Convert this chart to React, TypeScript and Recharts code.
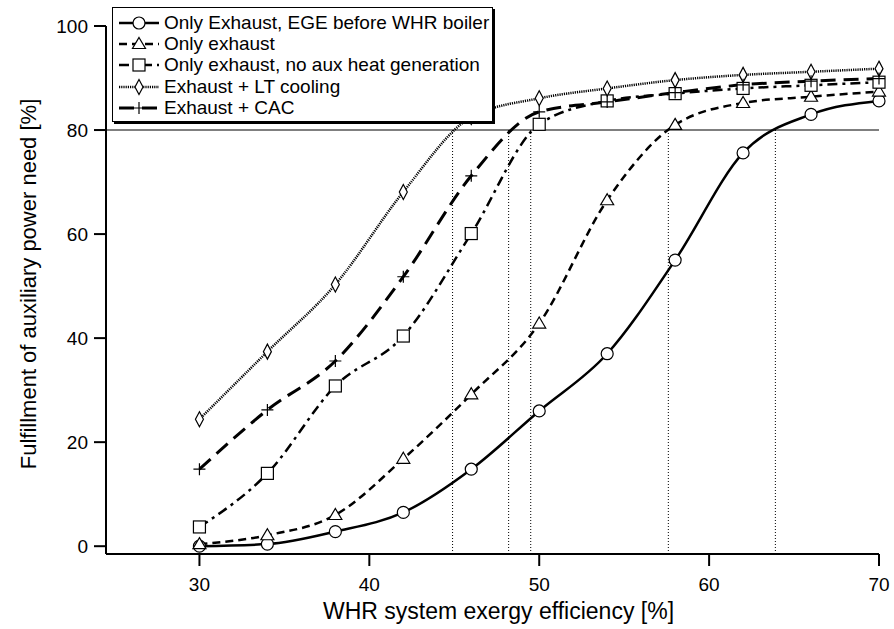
import React from 'react';
import {
  LineChart,
  Line,
  XAxis,
  YAxis,
  ReferenceLine,
  Legend,
} from 'recharts';

const efficiency = [30, 34, 38, 42, 46, 50, 54, 58, 62, 66, 70];
const egeBeforeBoiler = [0, 0.4, 2.8, 6.5, 14.8, 26, 37, 55, 75.6, 83, 85.6];
const onlyExhaust = [0.4, 2.1, 6, 16.8, 29.2, 42.8, 66.5, 81, 85.2, 86.4, 87.4];
const noAuxHeat = [3.7, 14, 30.8, 40.4, 60.1, 81.1, 85.6, 87, 88, 88.6, 89.2];
const ltCooling = [24.4, 37.4, 50.3, 68.1, 82.5, 86.1, 88, 89.6, 90.6, 91.2, 91.8];
const cac = [14.8, 26.2, 35.6, 51.8, 71.2, 83.5, 85.4, 87.2, 88.7, 89.4, 89.9];

// where each curve reaches the 80 % target
const crossings = [44.9, 48.2, 49.5, 57.6, 63.9];
const target = 80;

const xTicks = [30, 40, 50, 60, 70];
const yTicks = [0, 20, 40, 60, 80, 100];

const data = efficiency.map((x, i) => ({
  x,
  ege: egeBeforeBoiler[i],
  only: onlyExhaust[i],
  noAux: noAuxHeat[i],
  lt: ltCooling[i],
  cac: cac[i],
}));

const FONT = 'Liberation Sans, Arial, Helvetica, sans-serif';

type Shape = 'circle' | 'triangle' | 'square' | 'diamond' | 'plus';

function Marker({ shape, cx, cy }: { shape: Shape; cx: number; cy: number }) {
  const common = { fill: '#fff', stroke: '#000', strokeWidth: 1.2 };
  switch (shape) {
    case 'circle':
      return <circle cx={cx} cy={cy} r={6} {...common} />;
    case 'triangle':
      return (
        <polygon
          points={`${cx},${cy - 6.5} ${cx + 6.5},${cy + 4.5} ${cx - 6.5},${cy + 4.5}`}
          {...common}
        />
      );
    case 'square':
      return <rect x={cx - 6} y={cy - 6} width={12} height={12} {...common} />;
    case 'diamond':
      return (
        <polygon
          points={`${cx},${cy - 7.5} ${cx + 4},${cy} ${cx},${cy + 7.5} ${cx - 4},${cy}`}
          {...common}
        />
      );
    case 'plus':
      return (
        <path
          d={`M${cx - 6},${cy}H${cx + 6}M${cx},${cy - 6}V${cy + 6}`}
          stroke="#000"
          strokeWidth={1.2}
          fill="none"
        />
      );
  }
  return null;
}

const dotFor = (shape: Shape) => (props: any) => {
  const { cx, cy, index } = props;
  if (cx == null || cy == null) return <g key={`${shape}-${index}`} />;
  return (
    <g key={`${shape}-${index}`}>
      <Marker shape={shape} cx={cx} cy={cy} />
    </g>
  );
};

const series = [
  { key: 'ege', name: 'Only Exhaust, EGE before WHR boiler', shape: 'circle' as Shape, dash: undefined, width: 2.5 },
  { key: 'only', name: 'Only exhaust', shape: 'triangle' as Shape, dash: '8 5', width: 2.5 },
  { key: 'noAux', name: 'Only exhaust, no aux heat generation', shape: 'square' as Shape, dash: '10 5 3 5', width: 2.5 },
  { key: 'lt', name: 'Exhaust + LT cooling', shape: 'diamond' as Shape, dash: '1.2 1', width: 2.5 },
  { key: 'cac', name: 'Exhaust + CAC', shape: 'plus' as Shape, dash: '15 8', width: 3 },
];

function LegendBox() {
  return (
    <div
      style={{
        background: '#fff',
        border: '1.5px solid #000',
        boxShadow: '2px 2px 0 #000',
        padding: '4px 6px 4px 5px',
        fontFamily: FONT,
        fontSize: 19,
        color: '#000',
        boxSizing: 'border-box',
        width: 381,
        height: 115,
      }}
    >
      {series.map((s) => (
        <div key={s.key} style={{ display: 'flex', alignItems: 'center', height: 21.3, whiteSpace: 'nowrap' }}>
          <svg width={44} height={18} style={{ flex: 'none' }}>
            <line x1={1} y1={9} x2={41} y2={9} stroke="#000" strokeWidth={s.width} strokeDasharray={s.dash} />
            <Marker shape={s.shape} cx={21} cy={9} />
          </svg>
          <span style={{ marginLeft: 2 }}>{s.name}</span>
        </div>
      ))}
    </div>
  );
}

export default function App() {
  return (
    <div style={{ position: 'fixed', left: 0, top: 0, width: 894, height: 629, background: '#fff' }}>
      <LineChart
        width={894}
        height={629}
        data={data}
        margin={{ top: 26, right: 15, bottom: 0, left: 0 }}
      >
        <XAxis
          dataKey="x"
          type="number"
          domain={[24.5, 70]}
          ticks={xTicks}
          height={75}
          tickSize={12}
          tickMargin={12}
          stroke="#000"
          strokeWidth={2}
          tick={{ fill: '#000', fontSize: 19, fontFamily: FONT }}
          label={{
            content: (props: any) => {
              const vb = props.viewBox;
              return (
                <text
                  x={vb.x + vb.width / 2 + 6}
                  y={619}
                  textAnchor="middle"
                  fontSize={23}
                  fontFamily={FONT}
                  fill="#000"
                >
                  WHR system exergy efficiency [%]
                </text>
              );
            },
          }}
        />
        <YAxis
          type="number"
          domain={[-1.5, 100]}
          ticks={yTicks}
          width={106}
          tickSize={12}
          tickMargin={6}
          stroke="#000"
          strokeWidth={2}
          tick={{ fill: '#000', fontSize: 19, fontFamily: FONT }}
          label={{
            content: (props: any) => {
              const vb = props.viewBox;
              const cy = vb.y + vb.height / 2 - 6;
              return (
                <text
                  x={28}
                  y={cy}
                  transform={`rotate(-90, 28, ${cy})`}
                  textAnchor="middle"
                  dominantBaseline="central"
                  fontSize={22}
                  fontFamily={FONT}
                  fill="#000"
                >
                  Fulfillment of auxiliary power need [%]
                </text>
              );
            },
          }}
        />
        <ReferenceLine y={target} stroke="#555" strokeWidth={1.5} />
        {crossings.map((c) => (
          <ReferenceLine
            key={c}
            segment={[
              { x: c, y: -1.5 },
              { x: c, y: target },
            ]}
            stroke="#000"
            strokeWidth={1}
            strokeDasharray="1 2"
          />
        ))}
        {series.map((s) => (
          <Line
            key={s.key}
            dataKey={s.key}
            name={s.name}
            type="monotone"
            stroke="#000"
            strokeWidth={s.width}
            strokeDasharray={s.dash}
            dot={dotFor(s.shape)}
            activeDot={false}
            isAnimationActive={false}
          />
        ))}
        <Legend
          layout="horizontal"
          verticalAlign="middle"
          align="center"
          content={() => <LegendBox />}
          wrapperStyle={{ left: 112, top: 7, width: 381, height: 115 }}
        />
      </LineChart>
    </div>
  );
}
